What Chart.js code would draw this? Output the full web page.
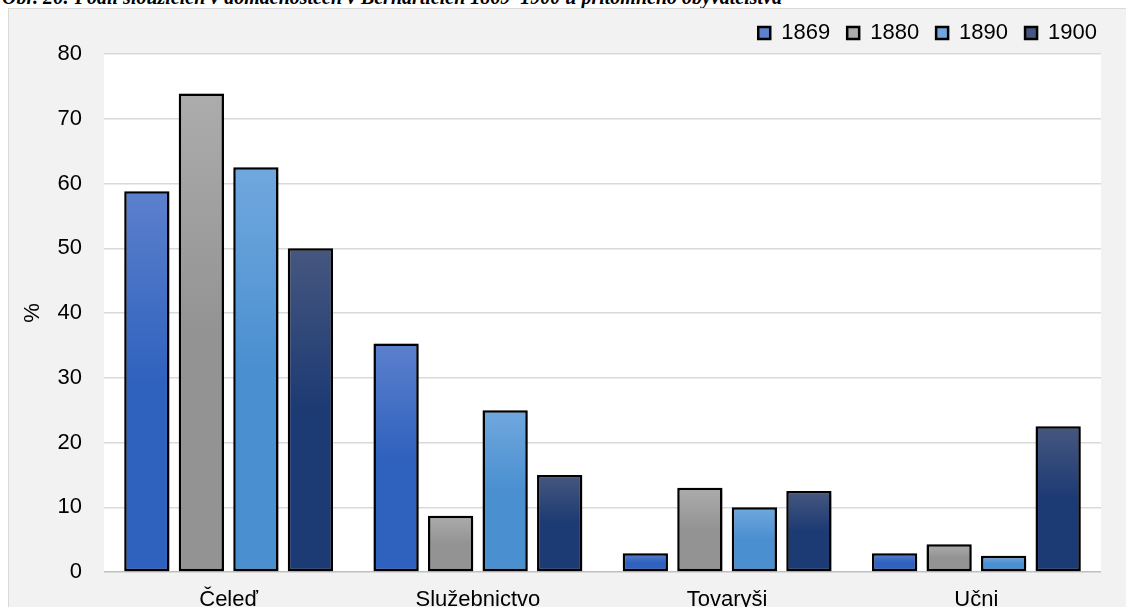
<!DOCTYPE html>
<html>
<head>
<meta charset="utf-8">
<script src="https://cdn.jsdelivr.net/npm/chart.js@4"></script>
<style>
  body { margin: 0; width: 1126px; height: 607px; overflow: hidden; background: #fff; }
  #title {
    position: absolute; left: 2px; top: -13px; z-index: 1;
    font: italic bold 20px "Liberation Serif", "Times New Roman", serif;
    line-height: 20px; white-space: nowrap; color: #000;
  }
  #panel {
    position: absolute; left: 8px; top: 8px; width: 1130px; height: 620px; z-index: 2;
    background: #f2f2f2; border: 1px solid #d9d9d9;
  }
  #chartCanvas { position: absolute; left: 0; top: 0; z-index: 3; }
</style>
</head>
<body>
<div id="title">Obr. 26: Podíl sloužících v domácnostech v Bernarticích 1869–1900 u přítomného obyvatelstva</div>
<div id="panel"></div>
<canvas id="chartCanvas" width="1126" height="620"></canvas>
<script>
// Chart data
const categories = ['Čeleď', 'Služebnictvo', 'Tovaryši', 'Učni'];
const years = ['1869', '1880', '1890', '1900'];
const values1869 = [58.8, 35.3, 2.9, 2.9];
const values1880 = [73.9, 8.7, 13.0, 4.3];
const values1890 = [62.5, 25.0, 10.0, 2.5];
const values1900 = [50.0, 15.0, 12.5, 22.5];
const yTicks = [0, 10, 20, 30, 40, 50, 60, 70, 80];

// gradient colours per series: top, bottom
const topColors = ['#5c80cd', '#acacac', '#70a8de', '#46577f'];
const bottomColors = ['#2f62be', '#939393', '#4a8fd0', '#1c3a73'];

const fontFamily = '"Liberation Sans", Arial, sans-serif';

function barFill(i) {
    return (ctx) => {
        const chart = ctx.chart;
        const y = chart.scales.y;
        if (ctx.type !== 'data' || !y || !chart.chartArea) {
            return bottomColors[i];
        }
        const top = y.getPixelForValue(ctx.raw);
        const base = y.getPixelForValue(0);
        if (!isFinite(top) || !isFinite(base) || top === base) return bottomColors[i];
        const g = chart.ctx.createLinearGradient(0, top, 0, base);
        g.addColorStop(0, topColors[i]);
        g.addColorStop(0.5, bottomColors[i]);
        g.addColorStop(1, bottomColors[i]);
        return g;
    };
}

const seriesValues = [values1869, values1880, values1890, values1900];
const datasets = years.map((year, i) => ({
    label: year,
    data: seriesValues[i],
    backgroundColor: barFill(i),
    borderColor: '#000',
    borderWidth: 2.5,
    borderSkipped: false,
    categoryPercentage: 0.875,
    barPercentage: 0.83
}));

// white plot area
const plotBackground = {
    id: 'plotBackground',
    beforeDraw(chart) {
        const a = chart.chartArea;
        chart.ctx.save();
        chart.ctx.fillStyle = '#fff';
        chart.ctx.fillRect(a.left, a.top, a.right - a.left, a.bottom - a.top);
        chart.ctx.restore();
    }
};

// soft drop shadow under the bars
const barShadow = {
    id: 'barShadow',
    beforeDatasetsDraw(chart) {
        const c = chart.ctx;
        c.save();
        c.shadowColor = 'rgba(0,0,0,0.35)';
        c.shadowBlur = 6;
        c.shadowOffsetX = 2;
        c.shadowOffsetY = 2;
    },
    afterDatasetsDraw(chart) {
        chart.ctx.restore();
    }
};

const chartContext = document.getElementById('chartCanvas').getContext('2d');
new Chart(chartContext, {
    type: 'bar',
    data: { labels: categories, datasets: datasets },
    plugins: [plotBackground, barShadow],
    options: {
        responsive: false,
        animation: false,
        layout: { padding: { top: 5, right: 12, left: 0, bottom: 0 } },
        plugins: {
            tooltip: { enabled: false },
            legend: {
                position: 'top',
                align: 'end',
                labels: {
                    boxWidth: 12,
                    boxHeight: 12,
                    padding: 17,
                    color: '#000',
                    font: { family: fontFamily, size: 22 }
                }
            }
        },
        scales: {
            x: {
                grid: { display: false },
                border: { display: false },
                ticks: {
                    color: '#000',
                    padding: 7,
                    font: { family: fontFamily, size: 22 }
                },
                afterFit: (s) => { s.height = 48; }
            },
            y: {
                min: 0,
                max: 80,
                afterBuildTicks: (s) => { s.ticks = yTicks.map(v => ({ value: v })); },
                grid: {
                    drawTicks: false,
                    lineWidth: 1.5,
                    color: (ctx) => ctx.tick && ctx.tick.value === 0 ? '#bfbfbf' : '#d9d9d9'
                },
                border: { display: false },
                ticks: {
                    color: '#000',
                    padding: 22,
                    font: { family: fontFamily, size: 22 }
                },
                title: {
                    display: true,
                    text: '%',
                    color: '#000',
                    padding: { top: 20, bottom: 0 },
                    font: { family: fontFamily, size: 22 }
                },
                afterFit: (s) => { s.width = 104; }
            },
            yRight: {
                position: 'right',
                grid: { display: false },
                border: { display: false },
                ticks: { display: false },
                afterFit: (s) => { s.width = 13; }
            }
        }
    }
});
</script>
</body>
</html>
